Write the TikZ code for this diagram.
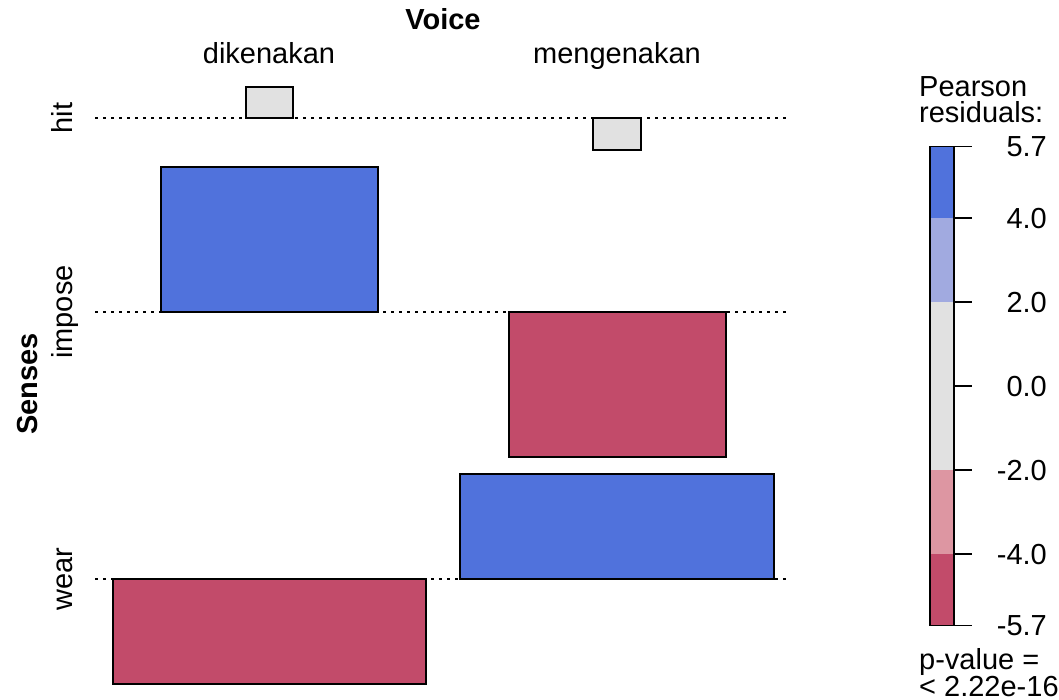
\documentclass[tikz,border=0pt]{standalone}
\usepackage{fontspec}
\setmainfont{Liberation Sans}
\definecolor{resblue}{RGB}{80,114,220}
\definecolor{resltblue}{RGB}{161,170,224}
\definecolor{resgray}{RGB}{225,225,225}
\definecolor{resltred}{RGB}{221,150,162}
\definecolor{resred}{RGB}{194,75,106}
\tikzset{
  cell/.style={draw=black,line width=1.3pt},
  level/.style={dash pattern=on 3pt off 5pt,line width=1.5pt},
  lab/.style={inner sep=0pt,font=\fontsize{29}{26}\selectfont},
  blab/.style={lab,font=\fontsize{29}{26}\selectfont\bfseries}
}
\begin{document}
\begin{tikzpicture}[x=1pt,y=-1pt]
\useasboundingbox (0,0) rectangle (1059,699);
\fill[white] (0,0) rectangle (1059,699);
% levels of Senses
\draw[level] (95,118) -- (786,118);
\draw[level] (95,312) -- (786,312);
\draw[level] (95,579) -- (786,579);
% tiles
\draw[cell,fill=resgray] (246,87) rectangle (293,118);
\draw[cell,fill=resgray] (593,118) rectangle (641,150);
\draw[cell,fill=resblue] (161,167) rectangle (378,312);
\draw[cell,fill=resred] (509,312) rectangle (726,457);
\draw[cell,fill=resblue] (460,474) rectangle (774,579);
\draw[cell,fill=resred] (113,579) rectangle (426,684);
% labels
\node[blab,anchor=base] (voice) at (443,29) {Voice};
\node[lab,anchor=base] (diken) at (269,63) {dikenakan};
\node[lab,anchor=base] (mengen) at (617,63) {mengenakan};
\node[blab,anchor=base,rotate=90] (senses) at (37,384) {Senses};
\node[lab,anchor=base,rotate=90] (hit) at (72,118) {hit};
\node[lab,anchor=base,rotate=90] (impose) at (72,312) {impose};
\node[lab,anchor=base,rotate=90] (wear) at (72,579) {wear};
% legend
\fill[resblue] (930,146.6) rectangle (954,218);
\fill[resltblue] (930,218) rectangle (954,302);
\fill[resgray] (930,302) rectangle (954,470);
\fill[resltred] (930,470) rectangle (954,554);
\fill[resred] (930,554) rectangle (954,625.4);
\draw[line width=1.3pt] (930,146.6) rectangle (954,625.4);
\foreach \v/\t in {5.7/5.7,4/4.0,2/2.0,0/0.0,-2/-2.0,-4/-4.0,-5.7/-5.7}{
  \draw[line width=1.3pt] (954,386-42*\v) -- (972,386-42*\v);
  \node[lab,anchor=base east] at (1047,396-42*\v) {\t};
}
\node[lab,align=left,anchor=north west] (pear) at (919,76) {Pearson\\residuals:};
\node[lab,align=left,anchor=north west] (pval) at (919,648) {p-value =\\< 2.22e-16};
\end{tikzpicture}
\end{document}
